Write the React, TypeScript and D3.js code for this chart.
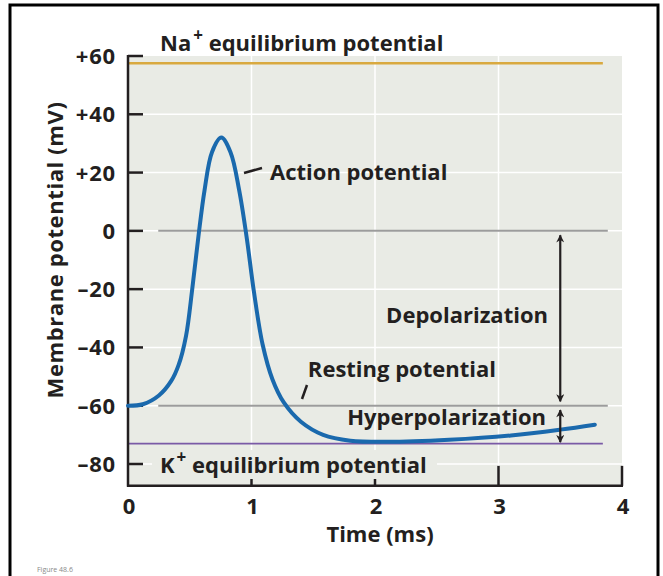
import * as d3 from 'd3';
import { useRef, useEffect } from 'react';

// time (ms) and membrane potential (mV)
const times = [0, 0.12, 0.25, 0.35, 0.41, 0.47, 0.52, 0.57, 0.62, 0.68, 0.755, 0.83, 0.9, 0.96, 1.02, 1.09, 1.17, 1.26, 1.4, 1.58, 1.8, 2.1, 2.6, 3.1, 3.5, 3.78];
const potentials = [-60, -59.5, -56.5, -51.5, -46, -36, -20, -2, 14, 27, 32, 27, 14, -2, -21, -39, -51, -58.8, -65.5, -70, -72, -72.4, -71.7, -70.2, -68.2, -66.5];

const xTicks = [0, 1, 2, 3, 4];
const yTicks = [60, 40, 20, 0, -20, -40, -60, -80];
const yTickLabels = ['+60', '+40', '+20', '0', '–20', '–40', '–60', '–80'];

const naEquilibrium = 57.5;
const kEquilibrium = -73;
const restingPotential = -60;
const zeroLine = 0;

const FONT = '"Open Sans", "DejaVu Sans", sans-serif';
const INK = '#231f20';
const BG = '#e9ebe5';

export default function App() {
  const svgRef = useRef<SVGSVGElement | null>(null);

  useEffect(() => {
    const width = 663;
    const height = 576;

    const x = d3.scaleLinear().domain([0, 4]).range([128, 622]);
    const y = d3.scaleLinear().domain([60, -80]).range([56, 464]);
    const yBottom = y(-87.5);

    d3.select(svgRef.current).selectAll('*').remove();
    const svg = d3.select(svgRef.current).attr('width', width).attr('height', height);

    // Marco
    svg
      .append('rect')
      .attr('x', 10)
      .attr('y', 5)
      .attr('width', 648)
      .attr('height', 600)
      .attr('fill', 'white')
      .attr('stroke', 'black')
      .attr('stroke-width', 3);

    // Fondo del área
    svg
      .append('rect')
      .attr('x', x(0))
      .attr('y', y(60))
      .attr('width', x(4) - x(0))
      .attr('height', yBottom - y(60))
      .attr('fill', BG);

    // Rejilla blanca
    [1, 2, 3].forEach((t) => {
      svg
        .append('line')
        .attr('x1', x(t))
        .attr('x2', x(t))
        .attr('y1', y(60))
        .attr('y2', yBottom)
        .attr('stroke', 'white')
        .attr('stroke-width', 1.5);
    });
    yTicks.slice(1).forEach((v) => {
      svg
        .append('line')
        .attr('x1', x(0))
        .attr('x2', x(4))
        .attr('y1', y(v))
        .attr('y2', y(v))
        .attr('stroke', 'white')
        .attr('stroke-width', 1.5);
    });

    // Marcas X hacia arriba
    xTicks.slice(1).forEach((t) => {
      svg
        .append('line')
        .attr('x1', x(t))
        .attr('x2', x(t))
        .attr('y1', yBottom)
        .attr('y2', yBottom - 20)
        .attr('stroke', INK)
        .attr('stroke-width', 2.5);
    });

    // Líneas de referencia
    const hline = (v: number, x0: number, x1: number, color: string, w: number) =>
      svg
        .append('line')
        .attr('x1', x0)
        .attr('x2', x1)
        .attr('y1', y(v))
        .attr('y2', y(v))
        .attr('stroke', color)
        .attr('stroke-width', w);

    hline(naEquilibrium, x(0), x(3.845), '#d9a93f', 2.5);
    hline(zeroLine, x(0.245), x(3.885), '#9c9c9c', 2);
    hline(restingPotential, x(0.245), x(3.885), '#9c9c9c', 2);
    hline(kEquilibrium, x(0), x(3.845), '#7a5aa6', 1.8);

    // Fondo de la etiqueta K+
    svg
      .append('rect')
      .attr('x', 152)
      .attr('y', 450)
      .attr('width', 285)
      .attr('height', 29)
      .attr('fill', BG);

    // Eje Y
    svg
      .append('line')
      .attr('x1', x(0))
      .attr('x2', x(0))
      .attr('y1', y(60) - 1)
      .attr('y2', yBottom + 1)
      .attr('stroke', INK)
      .attr('stroke-width', 2.5);
    yTicks.forEach((v, i) => {
      svg
        .append('line')
        .attr('x1', x(0))
        .attr('x2', x(0) + 15)
        .attr('y1', y(v))
        .attr('y2', y(v))
        .attr('stroke', INK)
        .attr('stroke-width', 2.5);
      svg
        .append('text')
        .attr('x', 116)
        .attr('y', y(v) + 8)
        .attr('text-anchor', 'end')
        .attr('font-family', FONT)
        .attr('font-weight', 700)
        .attr('font-size', '22px')
        .attr('letter-spacing', '0.8px')
        .attr('fill', INK)
        .text(yTickLabels[i]);
    });

    // Eje X
    svg
      .append('line')
      .attr('x1', x(0) - 1)
      .attr('x2', x(4) + 1)
      .attr('y1', yBottom)
      .attr('y2', yBottom)
      .attr('stroke', INK)
      .attr('stroke-width', 2.5);
    xTicks.forEach((t) => {
      svg
        .append('text')
        .attr('x', x(t) + 1)
        .attr('y', 514)
        .attr('text-anchor', 'middle')
        .attr('font-family', FONT)
        .attr('font-weight', 700)
        .attr('font-size', '22px')
        .attr('fill', INK)
        .text(String(t));
    });

    svg
      .append('text')
      .attr('x', 380)
      .attr('y', 542)
      .attr('text-anchor', 'middle')
      .attr('font-family', FONT)
      .attr('font-weight', 700)
      .attr('font-size', '22px')
      .attr('fill', INK)
      .text('Time (ms)');

    svg
      .append('text')
      .attr('transform', 'translate(63,250) rotate(-90)')
      .attr('text-anchor', 'middle')
      .attr('font-family', FONT)
      .attr('font-weight', 700)
      .attr('font-size', '22px')
      .attr('letter-spacing', '0.6px')
      .attr('fill', INK)
      .text('Membrane potential (mV)');

    // Curva
    const pts = times.map((t, i) => [t, potentials[i]] as [number, number]);
    const line = d3
      .line<[number, number]>()
      .x((d) => x(d[0]))
      .y((d) => y(d[1]))
      .curve(d3.curveCatmullRom.alpha(0.5));
    svg
      .append('path')
      .attr('d', line(pts))
      .attr('fill', 'none')
      .attr('stroke', '#1a69ad')
      .attr('stroke-width', 4)
      .attr('stroke-linecap', 'round');

    // Etiquetas
    const label = (txt: string, lx: number, ly: number, anchor = 'start') =>
      svg
        .append('text')
        .attr('x', lx)
        .attr('y', ly)
        .attr('text-anchor', anchor)
        .attr('font-family', FONT)
        .attr('font-weight', 700)
        .attr('font-size', '22px')
        .attr('fill', INK)
        .text(txt);

    const na = label('Na', 160, 51);
    na.append('tspan').attr('font-size', '17px').attr('dx', 2).attr('dy', -10).text('+');
    na.append('tspan').attr('dy', 10).text(' equilibrium potential');

    const k = label('K', 160, 473);
    k.append('tspan').attr('font-size', '17px').attr('dx', 2).attr('dy', -10).text('+');
    k.append('tspan').attr('dy', 10).text(' equilibrium potential');

    label('Action potential', 270, 180);
    label('Depolarization', 548, 323, 'end');
    label('Resting potential', 496, 377, 'end');
    label('Hyperpolarization', 546, 425, 'end');

    // Líneas guía
    const leader = (x1: number, y1: number, x2: number, y2: number) =>
      svg
        .append('line')
        .attr('x1', x1)
        .attr('y1', y1)
        .attr('x2', x2)
        .attr('y2', y2)
        .attr('stroke', INK)
        .attr('stroke-width', 2.5);
    leader(244, 173, 262, 168);
    leader(302, 399, 307, 385);

    // Flechas dobles
    const defs = svg.append('defs');
    defs
      .append('marker')
      .attr('id', 'head')
      .attr('viewBox', '0 0 10 10')
      .attr('refX', 9)
      .attr('refY', 5)
      .attr('markerWidth', 11)
      .attr('markerHeight', 8)
      .attr('markerUnits', 'userSpaceOnUse')
      .attr('orient', 'auto-start-reverse')
      .append('path')
      .attr('d', 'M0,0 L10,5 L0,10 L3,5 Z')
      .attr('fill', INK);

    const arrowX = x(3.5);
    [
      [-1.5, -58.5],
      [-61.5, -72.5],
    ].forEach(([a, b]) => {
      svg
        .append('line')
        .attr('x1', arrowX)
        .attr('x2', arrowX)
        .attr('y1', y(a))
        .attr('y2', y(b))
        .attr('stroke', INK)
        .attr('stroke-width', 2.2)
        .attr('marker-start', 'url(#head)')
        .attr('marker-end', 'url(#head)');
    });

    svg
      .append('text')
      .attr('x', 37)
      .attr('y', 572)
      .attr('font-family', FONT)
      .attr('font-size', '7px')
      .attr('fill', '#888')
      .text('Figure 48.6');
  }, []);

  return (
    <div style={{ position: 'absolute', left: 0, top: 0 }}>
      <svg ref={svgRef} style={{ display: 'block' }} />
    </div>
  );
}
